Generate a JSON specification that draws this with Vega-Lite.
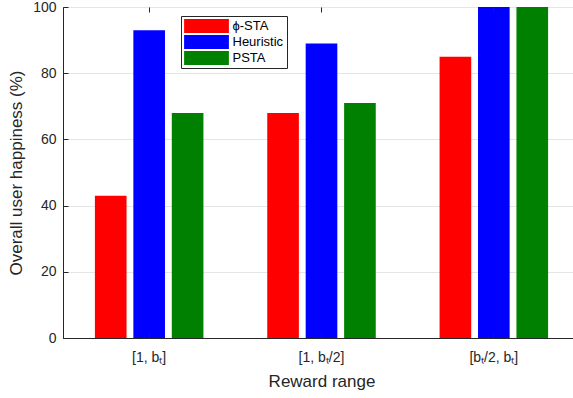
{
  "$schema": "https://vega.github.io/schema/vega-lite/v6.json",
  "width": 517,
  "height": 331,
  "autosize": "none",
  "padding": {"left": 63, "top": 7, "right": 0, "bottom": 60},
  "background": "white",
  "config": {
    "font": "Liberation Sans",
    "view": {"stroke": "#262626", "strokeWidth": 1},
    "axis": {
      "domainColor": "#262626",
      "tickColor": "#262626",
      "labelColor": "#262626",
      "titleColor": "#262626",
      "labelFontSize": 14,
      "titleFontSize": 17,
      "titleFontWeight": "normal",
      "labelFont": "Liberation Sans",
      "titleFont": "Liberation Sans"
    }
  },
  "data": {
    "values": [
      {"range": "[1, bₜ]", "method": "ϕ-STA", "value": 43},
      {"range": "[1, bₜ]", "method": "Heuristic", "value": 93},
      {"range": "[1, bₜ]", "method": "PSTA", "value": 68},
      {"range": "[1, bₜ/2]", "method": "ϕ-STA", "value": 68},
      {"range": "[1, bₜ/2]", "method": "Heuristic", "value": 89},
      {"range": "[1, bₜ/2]", "method": "PSTA", "value": 71},
      {"range": "[bₜ/2, bₜ]", "method": "ϕ-STA", "value": 85},
      {"range": "[bₜ/2, bₜ]", "method": "Heuristic", "value": 100},
      {"range": "[bₜ/2, bₜ]", "method": "PSTA", "value": 100}
    ]
  },
  "resolve": {"axis": {"x": "independent"}},
  "layer": [
    {
      "mark": {"type": "bar"},
      "encoding": {
        "x": {
          "field": "range",
          "type": "nominal",
          "sort": null,
          "scale": {"paddingInner": 0, "paddingOuter": 0},
          "axis": {
            "title": "Reward range",
            "labelAngle": 0,
            "tickSize": -5,
            "labelPadding": 17,
            "titlePadding": 9,
            "grid": false,
            "domain": true,
            "zindex": 1
          }
        },
        "xOffset": {
          "field": "method",
          "type": "nominal",
          "sort": ["ϕ-STA", "Heuristic", "PSTA"],
          "scale": {"paddingInner": 0.177, "paddingOuter": 0.83}
        },
        "y": {
          "field": "value",
          "type": "quantitative",
          "scale": {"domain": [0, 100], "nice": false},
          "axis": {
            "title": "Overall user happiness (%)",
            "values": [0, 20, 40, 60, 80, 100],
            "tickSize": -5,
            "labelPadding": 12,
            "titlePadding": 7,
            "grid": true,
            "gridColor": "#e5e5e5"
          }
        },
        "color": {
          "field": "method",
          "type": "nominal",
          "sort": ["ϕ-STA", "Heuristic", "PSTA"],
          "scale": {"domain": ["ϕ-STA", "Heuristic", "PSTA"], "range": ["#ff0000", "#0000ff", "#008000"]},
          "legend": {
            "title": null,
            "orient": "none",
            "legendX": 118,
            "legendY": 9,
            "padding": 3,
            "strokeColor": "#262626",
            "fillColor": "white",
            "symbolType": "M-3.2,-1H3.2V1H-3.2Z",
            "symbolSize": 196,
            "symbolOffset": 15.5,
            "symbolStrokeWidth": 0,
            "symbolOpacity": 1,
            "labelFontSize": 13,
            "labelColor": "#000000",
            "labelOffset": 19,
            "rowPadding": 2
          }
        }
      }
    },
    {
      "mark": {"type": "tick", "opacity": 0},
      "encoding": {
        "x": {
          "field": "range",
          "type": "nominal",
          "sort": null,
          "axis": {
            "orient": "top",
            "title": null,
            "labels": false,
            "tickSize": -5,
            "domain": false,
            "grid": false,
            "zindex": 1
          }
        }
      }
    }
  ]
}
